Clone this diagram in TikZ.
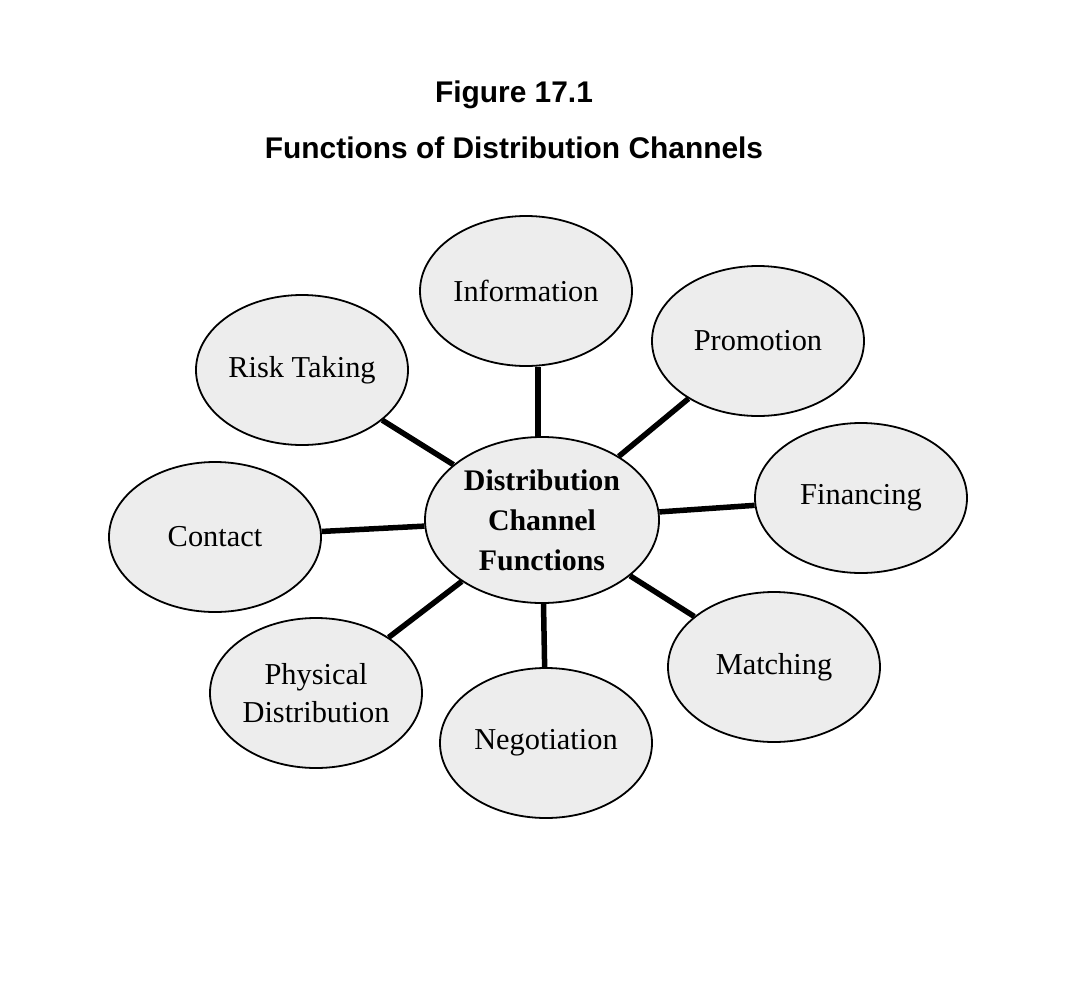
\documentclass[tikz,border=0pt]{standalone}
\usepackage{fontspec}
\setmainfont{Liberation Serif}
\newfontfamily\titlefont{Liberation Sans}
\usetikzlibrary{shapes.geometric}
\tikzset{
  func/.style={ellipse, draw=black, line width=1.8bp, fill=black!7, inner sep=0pt,
    minimum width=212bp, minimum height=150bp, align=center,
    font=\fontsize{30.5}{38}\selectfont},
  hub/.style={func, minimum width=234bp, minimum height=166bp,
    font=\bfseries\fontsize{30}{40}\selectfont},
  conn/.style={line width=5.5bp, black},
  ttl/.style={font=\titlefont\bfseries\fontsize{30}{34}\selectfont, inner sep=0pt}
}
\begin{document}
\begin{tikzpicture}[x=1bp,y=-1bp]
\useasboundingbox[fill=white] (0,0) rectangle (1080,998);
\node[ttl] (t1) at (514,95) {Figure 17.1};
\node[ttl] (t2) at (514,148) {Functions of Distribution Channels};

\node[hub] (hub) at (542,520) {Distribution\\Channel\\Functions};
\node[func] (info) at (526,291) {Information};
\node[func] (promo) at (758,341) {Promotion};
\node[func] (risk) at (302,370) {Risk Taking};
\node[func] (fin) at (861,498) {Financing};
\node[func] (contact) at (215,537) {Contact};
\node[func] (match) at (774,667) {Matching};
\node[func] (phys) at (316,693) {Physical\\Distribution};
\node[func] (neg) at (546,743) {Negotiation};

\draw[conn] ([xshift=-4bp]hub.north) -- ([xshift=-4bp]hub.north |- info.south);
\draw[conn] (hub) -- (promo);
\draw[conn] (hub) -- (risk);
\draw[conn] (hub) -- (fin);
\draw[conn] (hub) -- (contact);
\draw[conn] (hub) -- (match);
\draw[conn] (hub) -- (phys);
\draw[conn] (hub) -- (neg);
\end{tikzpicture}
\end{document}
